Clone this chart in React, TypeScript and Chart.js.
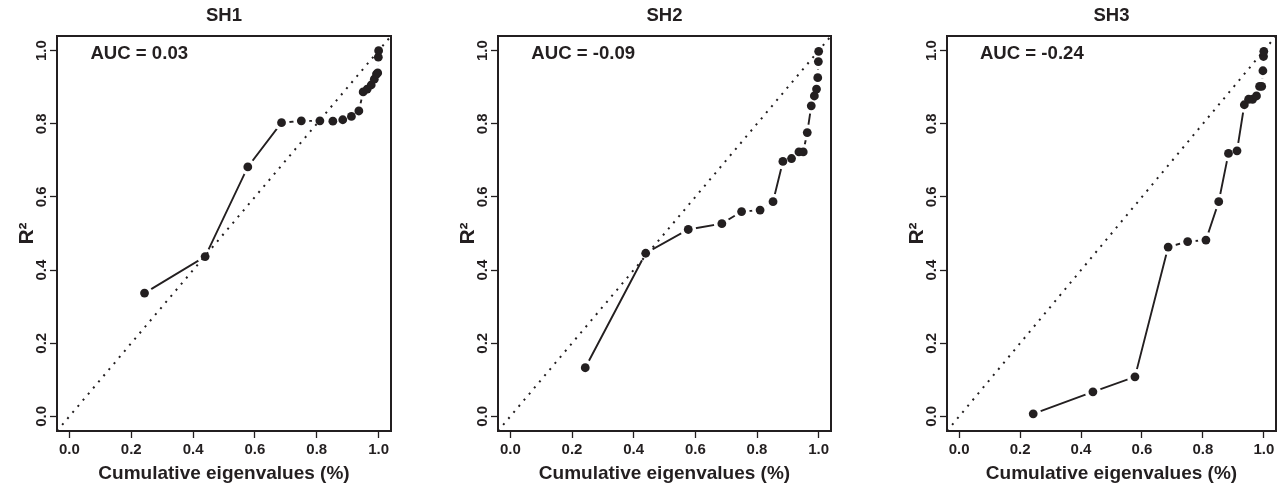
import React, { useEffect, useRef } from 'react';
import { Chart, registerables } from 'chart.js';

Chart.register(...registerables);

// ---- data ----
const CUM_EIGEN = [0.243, 0.439, 0.577, 0.686, 0.750, 0.810, 0.852, 0.884, 0.912, 0.936, 0.950, 0.963, 0.976, 0.986, 0.993, 0.997, 0.999, 1.0];
const SH1_R2 = [0.337, 0.437, 0.682, 0.803, 0.808, 0.808, 0.807, 0.811, 0.820, 0.835, 0.887, 0.895, 0.906, 0.922, 0.936, 0.939, 0.982, 1.0];
const SH2_R2 = [0.133, 0.446, 0.511, 0.527, 0.560, 0.564, 0.587, 0.697, 0.705, 0.723, 0.723, 0.776, 0.849, 0.876, 0.895, 0.926, 0.970, 0.998];
const SH3_R2 = [0.007, 0.067, 0.108, 0.463, 0.478, 0.482, 0.587, 0.719, 0.726, 0.852, 0.867, 0.867, 0.876, 0.902, 0.902, 0.945, 0.984, 0.998];
const PANEL_TITLES = ['SH1', 'SH2', 'SH3'];
const AUC_VALUES = ['0.03', '-0.09', '-0.24'];
const AXIS_TICKS = [0, 0.2, 0.4, 0.6, 0.8, 1.0];
const AXIS_MIN = -0.04;
const AXIS_MAX = 1.04;
const X_TITLE = 'Cumulative eigenvalues (%)';
const Y_TITLE = 'R²';

const FONT = "'Liberation Sans', Arial, Helvetica, sans-serif";
const INK = '#231f20';

type PanelProps = { left: number; width: number; padRight: number; title: string; auc: string; values: number[] };

function Panel({ left, width, padRight, title, auc, values }: PanelProps) {
  const ref = useRef<HTMLCanvasElement>(null);
  useEffect(() => {
    const pts = CUM_EIGEN.map((x, i) => ({ x, y: values[i] }));
    const diag = [{ x: AXIS_MIN, y: AXIS_MIN }, { x: AXIS_MAX, y: AXIS_MAX }];
    const framePlugin = {
      id: 'frame',
      afterDatasetsDraw(chart: any) {
        const { ctx, scales } = chart;
        ctx.save();
        ctx.fillStyle = INK;
        ctx.font = `bold 18.6px ${FONT}`;
        ctx.textAlign = 'left';
        ctx.textBaseline = 'middle';
        ctx.fillText(`AUC = ${auc}`, scales.x.getPixelForValue(0.068), scales.y.getPixelForValue(0.99));
        ctx.restore();
      },
      afterDraw(chart: any) {
        const { ctx, chartArea: a } = chart;
        ctx.save();
        ctx.strokeStyle = INK;
        ctx.lineWidth = 2;
        ctx.strokeRect(a.left, a.top, a.right - a.left, a.bottom - a.top);
        ctx.restore();
      },
    };
    const tickCfg = (rot: number, pad: number, cross: string) => ({
      font: { family: FONT, size: 15, weight: 'bold' as const },
      color: INK,
      padding: pad,
      minRotation: rot,
      maxRotation: rot,
      autoSkip: false,
      crossAlign: cross,
      callback: (v: any) => Number(v).toFixed(1),
    });
    const gridCfg = { display: true, drawOnChartArea: false, drawTicks: true, tickLength: 7, tickWidth: 1.3, tickColor: INK };
    const chart = new Chart(ref.current!, {
      type: 'scatter',
      data: {
        datasets: [
          { data: diag, showLine: true, borderColor: INK, borderWidth: 2, borderDash: [2, 6], pointRadius: 0 },
          { data: pts, showLine: false, pointRadius: 4.4, pointBackgroundColor: INK, pointBorderWidth: 0 },
          { data: pts, showLine: false, pointRadius: 8, pointBackgroundColor: '#ffffff', pointBorderWidth: 0 },
          { data: pts, showLine: true, borderColor: INK, borderWidth: 1.9, pointRadius: 0 },
        ],
      },
      options: {
        animation: false,
        responsive: false,
        events: [],
        layout: { padding: { left: 0, right: padRight, top: 0, bottom: 0 } },
        plugins: {
          legend: { display: false },
          tooltip: { enabled: false },
          title: {
            display: true,
            text: title,
            fullSize: false,
            color: INK,
            font: { family: FONT, size: 18.5, weight: 'bold' },
            padding: { top: 5, bottom: 8.8 },
          },
        },
        scales: {
          x: {
            type: 'linear',
            min: AXIS_MIN,
            max: AXIS_MAX,
            afterBuildTicks: (s: any) => { s.ticks = AXIS_TICKS.map((v) => ({ value: v })); },
            afterFit: (s: any) => { s.height = 56; },
            grid: gridCfg,
            border: { display: false },
            ticks: tickCfg(0, 3, 'near'),
            title: { display: true, text: X_TITLE, color: INK, font: { family: FONT, size: 19, weight: 'bold' }, padding: { top: 0, bottom: 1.5 } },
          },
          y: {
            type: 'linear',
            min: AXIS_MIN,
            max: AXIS_MAX,
            afterBuildTicks: (s: any) => { s.ticks = AXIS_TICKS.map((v) => ({ value: v })); },
            afterFit: (s: any) => { s.width = 57; },
            grid: gridCfg,
            border: { display: false },
            ticks: tickCfg(90, -2, 'center'),
            title: { display: true, text: Y_TITLE, color: INK, font: { family: FONT, size: 21, weight: 'bold' }, padding: { top: 15, bottom: 0 } },
          },
        },
      } as any,
      plugins: [framePlugin],
    });
    return () => chart.destroy();
  }, []);
  return (
    <canvas
      ref={ref}
      width={width}
      height={487}
      style={{ position: 'absolute', left, top: 0, width, height: 487 }}
    />
  );
}

export default function App() {
  const series = [SH1_R2, SH2_R2, SH3_R2];
  const geo = [
    { left: 0, width: 428, padRight: 37 },
    { left: 441, width: 428, padRight: 38 },
    { left: 890, width: 394, padRight: 4 },
  ];
  return (
    <div style={{ position: 'fixed', left: 0, top: 0, width: 1284, height: 487, background: '#ffffff', overflow: 'hidden' }}>
      {geo.map((g, i) => (
        <Panel key={i} left={g.left} width={g.width} padRight={g.padRight} title={PANEL_TITLES[i]} auc={AUC_VALUES[i]} values={series[i]} />
      ))}
    </div>
  );
}
